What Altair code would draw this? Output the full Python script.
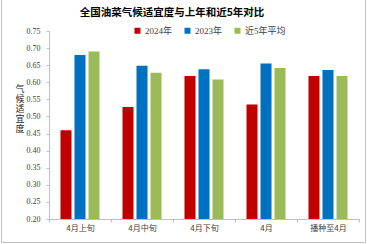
import altair as alt
import pandas as pd

categories = ["4月上旬", "4月中旬", "4月下旬", "4月", "播种至4月"]
series = ["2024年", "2023年", "近5年平均"]
v2024 = [0.46, 0.528, 0.618, 0.535, 0.618]
v2023 = [0.68, 0.648, 0.638, 0.655, 0.636]
v5yr = [0.69, 0.628, 0.608, 0.642, 0.618]
colors = ["#C00000", "#0070C0", "#9BBB59"]
title_text = "全国油菜气候适宜度与上年和近5年对比"
ytitle_chars = ["气", "候", "适", "宜", "度"]

rows = []
for s, vals in zip(series, [v2024, v2023, v5yr]):
    for c, v in zip(categories, vals):
        rows.append({"cat": c, "series": s, "value": v})
df = pd.DataFrame(rows)

FONT = "Liberation Serif, Noto Sans CJK SC"
CJK = "Noto Sans CJK SC"

bars = alt.Chart(df).mark_bar(clip=True).encode(
    x=alt.X("cat:N", sort=categories,
            scale=alt.Scale(paddingInner=0, paddingOuter=0),
            axis=alt.Axis(title=None, labelAngle=0, tickBand="extent",
                          tickColor="#bfbfbf", tickSize=3,
                          domainColor="#bfbfbf",
                          labelPadding=2, labelFontSize=8, labelFont=CJK,
                          labelColor="#404040")),
    xOffset=alt.XOffset("series:N", sort=series,
                        scale=alt.Scale(paddingInner=0.214, paddingOuter=0.82)),
    y=alt.Y("value:Q", scale=alt.Scale(domain=[0.2, 0.75], nice=False, zero=False),
            axis=alt.Axis(values=[0.2 + 0.05 * i for i in range(12)], format=".2f",
                          grid=False, domainColor="#bfbfbf", tickColor="#bfbfbf",
                          tickSize=3, labelPadding=6, labelFontSize=8, labelFont=FONT,
                          labelColor="#404040", title=None)),
    color=alt.Color("series:N", sort=series,
                    scale=alt.Scale(domain=series, range=colors),
                    legend=alt.Legend(title=None, orient="none", direction="horizontal",
                                      legendX=84, legendY=-5, columns=3,
                                      columnPadding=10, symbolType="square",
                                      symbolSize=36, symbolStrokeWidth=0,
                                      labelFont=FONT, labelFontSize=9, labelOffset=3,
                                      labelColor="#404040")),
)

one = pd.DataFrame({"a": [0]})
left = alt.Chart(one).mark_rule(color="#bfbfbf", strokeWidth=1).encode(
    x=alt.value(-47.5), y=alt.value(-31), y2=alt.value(211.5))
right = alt.Chart(one).mark_rule(color="#bfbfbf", strokeWidth=1).encode(
    x=alt.value(316.5), y=alt.value(-31), y2=alt.value(211.5))
bottom = alt.Chart(one).mark_rule(color="#bfbfbf", strokeWidth=1).encode(
    x=alt.value(-47.5), x2=alt.value(316.5), y=alt.value(211.5))

title = alt.Chart(pd.DataFrame({"t": [title_text]})).mark_text(
    font=CJK, fontSize=10.5, fontWeight="bold", color="#000000",
    align="center", baseline="middle").encode(
    text="t:N", x=alt.value(123), y=alt.value(-18))

ydf = pd.DataFrame({"t": ytitle_chars, "i": list(range(len(ytitle_chars)))})
ytitle = alt.Chart(ydf).mark_text(
    font=CJK, fontSize=9, color="#262626", align="center", baseline="top").encode(
    text="t:N",
    x=alt.value(-29),
    y=alt.Y("i:O", scale=alt.Scale(range=[54, 94], padding=0), axis=None))

chart = alt.layer(bars, left, right, bottom, title, ytitle).resolve_scale(y="independent").properties(
    width=310, height=188,
    autosize=alt.AutoSizeParams(type="none"),
    padding={"left": 49, "top": 31, "right": 8, "bottom": 25},
).configure_view(stroke=None)

chart.save("out.html", embed_options={"renderer": "svg", "actions": False})
